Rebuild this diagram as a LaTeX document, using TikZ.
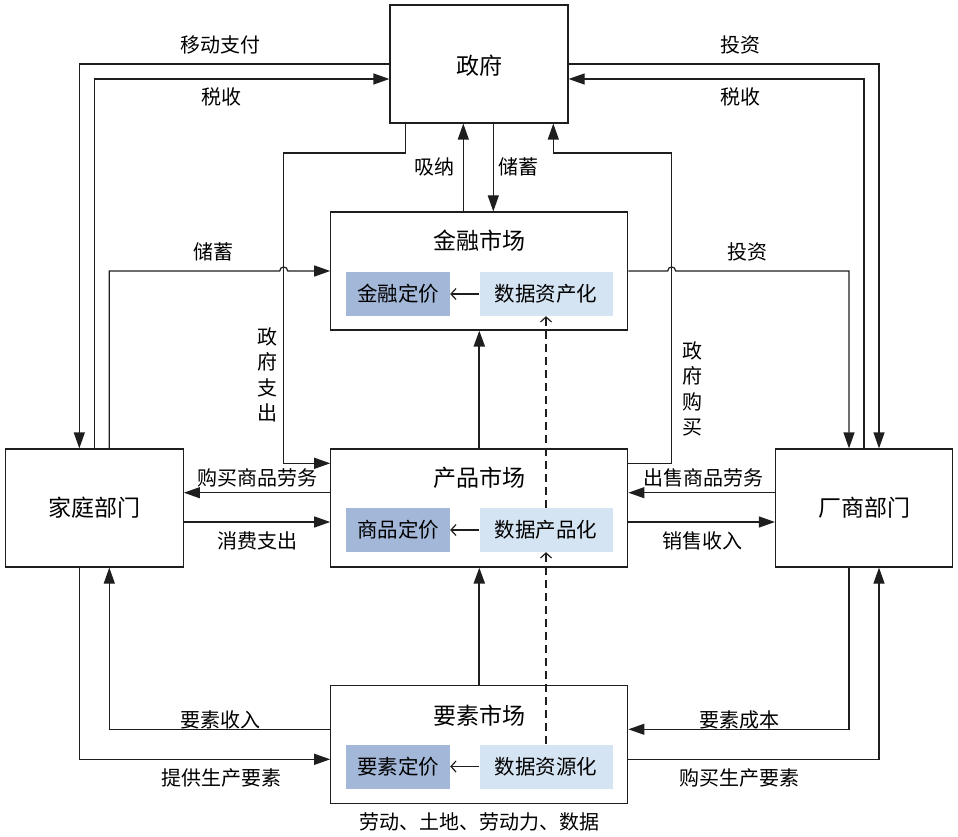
\documentclass[tikz,border=0pt]{standalone}
\usepackage{fontspec}
\newfontfamily\cjk{Noto Sans CJK SC}
\usetikzlibrary{arrows.meta,calc}
\definecolor{darkbox}{HTML}{A3B7D9}
\definecolor{lightbox}{HTML}{D5E4F2}
\definecolor{ln}{HTML}{1E1E1E}
\tikzset{
  every node/.style={font=\cjk},
  bigbox/.style={draw=ln,line width=1.2pt,minimum width=#1,minimum height=118pt,inner sep=0pt},
  darkin/.style={fill=darkbox,minimum width=104pt,minimum height=44pt,inner sep=0pt,font=\cjk\fontsize{20.5}{22}\selectfont},
  lightin/.style={fill=lightbox,minimum width=133pt,minimum height=44pt,inner sep=0pt,font=\cjk\fontsize{20.5}{22}\selectfont},
  title/.style={font=\cjk\fontsize{23}{26}\selectfont,inner sep=0pt},
  lab/.style={font=\cjk\fontsize{20}{25.3}\selectfont,inner sep=0pt,align=center},
  conn/.style={draw=ln,line width=1.2pt},
  arr/.style={conn,-{Triangle[length=16pt,width=11pt]}},
  thick arr/.style={draw=ln,line width=2.2pt,-{Triangle[length=16pt,width=11pt]}},
  small arr/.style={draw=ln,line width=1.2pt,-{Straight Barb[length=5pt,width=11pt]}},
  dash arr/.style={draw=ln,line width=1.2pt,dash pattern=on 8pt off 5pt,-{Straight Barb[length=5pt,width=11pt]}},
}
\begin{document}
\begin{tikzpicture}[x=1pt,y=-1pt]
\useasboundingbox (0,0) rectangle (958,837);
% main boxes
\node[bigbox=178pt] (gov) at (479,64) {};
\node[title] (govt) at (479,66) {政府};
\node[bigbox=297pt] (fin) at (479.3,271) {};
\node[title] (fint) at (479,241) {金融市场};
\node[bigbox=297pt] (prod) at (479.3,508) {};
\node[title] (prodt) at (479,478) {产品市场};
\node[bigbox=297pt] (fac) at (479.3,744.5) {};
\node[title] (fact) at (479,716) {要素市场};
\node[bigbox=178pt] (house) at (94.3,508) {};
\node[title] (houset) at (94.3,508) {家庭部门};
\node[bigbox=177pt] (firm) at (864,508) {};
\node[title] (firmt) at (864,508) {厂商部门};
% inner boxes
\node[darkin] (fd) at (398,294) {金融定价};
\node[lightin] (fl) at (546,294) {数据资产化};
\node[darkin] (pd) at (398,530) {商品定价};
\node[lightin] (pl) at (546,530) {数据产品化};
\node[darkin] (md) at (398,766.5) {要素定价};
\node[lightin] (ml) at (546,766.5) {数据资源化};
\draw[small arr] (fl.west) -- (fd.east);
\draw[small arr] (pl.west) -- (pd.east);
\draw[small arr] (ml.west) -- (md.east);
\draw[dash arr] (ml.north) -- (pl.south);
\draw[dash arr] (pl.north) -- (fl.south);
\draw[thick arr] (prod.north) -- (fin.south);
\draw[thick arr] (fac.north) -- (prod.south);
% government - household
\draw[arr] (gov.west) -| ($(house.north)+(-15,0)$);
\draw[arr] (house.north) |- ($(gov.west)+(0,15)$);
\draw[arr] ($(house.north)+(15,0)$) |- (279.7,271) .. controls (279.7,265.7) and (287.7,265.7) .. (287.7,271) -- (fin.west);
% government - firm
\draw[arr] (gov.east) -| ($(firm.north)+(15,0)$);
\draw[arr] (firm.north) |- ($(gov.east)+(0,15)$);
\draw[arr] (fin.east) -- (667.7,271) .. controls (667.7,265.7) and (675.7,265.7) .. (675.7,271) -| ($(firm.north)+(-15,0)$);
% gov - fin
\draw[arr] ($(fin.north)+(-16,0)$) -- ($(gov.south)+(-15.7,0)$);
\draw[arr] ($(gov.south)+(14.3,0)$) -- ($(fin.north)+(14,0)$);
% gov spending / purchase
\draw[arr] ($(gov.south)+(-73.3,0)$) |- (283.7,153) |- ($(prod.west)+(0,-44.7)$);
\draw[arr] ($(prod.east)+(0,-44.7)$) -| (671.7,153) -| ($(gov.south)+(74.3,0)$);
% household - product
\draw[arr] ($(prod.west)+(0,-15.3)$) -- ($(house.east)+(0,-15.3)$);
\draw[arr] ($(house.east)+(0,14)$) -- ($(prod.west)+(0,14)$);
% firm - product
\draw[arr] ($(firm.west)+(0,-15.3)$) -- ($(prod.east)+(0,-15.3)$);
\draw[arr] ($(prod.east)+(0,14)$) -- ($(firm.west)+(0,14)$);
% factor market
\draw[arr] ($(fac.west)+(0,-15.2)$) -| ($(house.south)+(15,0)$);
\draw[arr] ($(house.south)+(-15,0)$) |- ($(fac.west)+(0,14.8)$);
\draw[arr] ($(firm.south)+(-15,0)$) |- ($(fac.east)+(0,-15.2)$);
\draw[arr] ($(fac.east)+(0,14.8)$) -| ($(firm.south)+(15,0)$);
% labels
\node[lab] (l1) at (220,45) {移动支付};
\node[lab] (l2) at (221,97) {税收};
\node[lab] (l3) at (740,45) {投资};
\node[lab] (l4) at (740,97) {税收};
\node[lab] (l5) at (213,252) {储蓄};
\node[lab] (l6) at (747,252) {投资};
\node[lab] (l7) at (434,167) {吸纳};
\node[lab] (l8) at (518,167) {储蓄};
\node[lab] (l9) at (267,375) {政\\府\\支\\出};
\node[lab] (l10) at (692,389) {政\\府\\购\\买};
\node[lab] (l11) at (257,478) {购买商品劳务};
\node[lab] (l12) at (257,541) {消费支出};
\node[lab] (l13) at (703,478) {出售商品劳务};
\node[lab] (l14) at (702,541) {销售收入};
\node[lab] (l15) at (220,720) {要素收入};
\node[lab] (l16) at (221,778) {提供生产要素};
\node[lab] (l17) at (739,720) {要素成本};
\node[lab] (l18) at (739,778) {购买生产要素};
\node[lab] (l19) at (479,822) {劳动、土地、劳动力、数据};
\end{tikzpicture}
\end{document}
